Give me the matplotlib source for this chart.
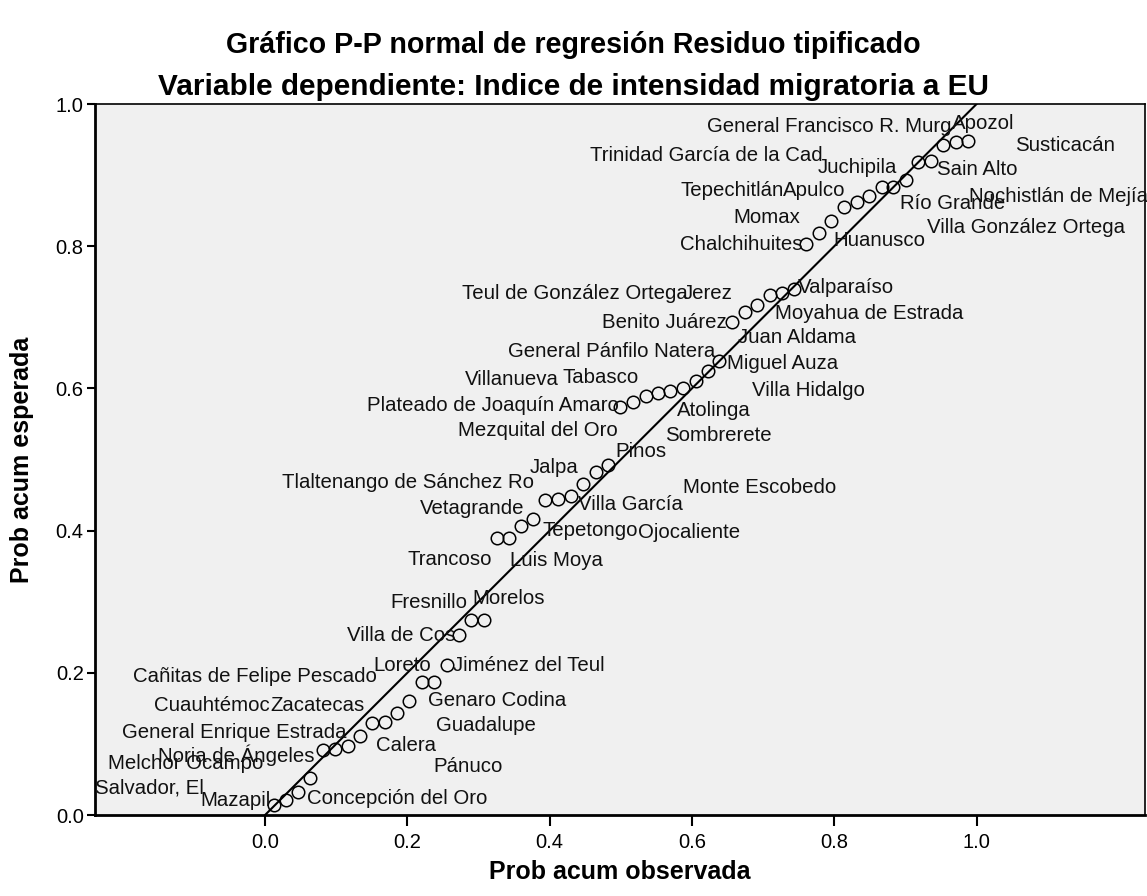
import numpy as np
import matplotlib.pyplot as plt

obs = [0.013, 0.029, 0.046, 0.063, 0.082, 0.098, 0.116, 0.134, 0.150, 0.168,
       0.185, 0.202, 0.220, 0.238, 0.255, 0.273, 0.289, 0.307, 0.326, 0.343,
       0.360, 0.377, 0.394, 0.412, 0.430, 0.447, 0.465, 0.482, 0.499, 0.517,
       0.535, 0.552, 0.569, 0.588, 0.605, 0.622, 0.638, 0.656, 0.675, 0.691,
       0.710, 0.726, 0.744, 0.760, 0.778, 0.795, 0.813, 0.832, 0.849, 0.867,
       0.883, 0.901, 0.918, 0.936, 0.953, 0.971, 0.988]
esp = [0.014, 0.021, 0.033, 0.052, 0.091, 0.093, 0.097, 0.111, 0.130, 0.131,
       0.143, 0.161, 0.187, 0.187, 0.211, 0.253, 0.274, 0.274, 0.390, 0.390,
       0.406, 0.417, 0.443, 0.445, 0.448, 0.465, 0.482, 0.492, 0.574, 0.581,
       0.590, 0.593, 0.597, 0.601, 0.610, 0.625, 0.639, 0.693, 0.708, 0.717,
       0.732, 0.734, 0.740, 0.803, 0.818, 0.835, 0.855, 0.862, 0.870, 0.883,
       0.883, 0.893, 0.918, 0.920, 0.942, 0.946, 0.948]

# municipality labels as SPSS placed them (pixel positions: left x, centre y)
names = ["General Francisco R. Murg", "Apozol", "Susticacán",
         "Trinidad García de la Cad", "Juchipila", "Sain Alto",
         "Tepechitlán", "Apulco", "Río Grande", "Nochistlán de Mejía",
         "Momax", "Villa González Ortega", "Chalchihuites", "Huanusco",
         "Valparaíso", "Teul de González Ortega", "Jerez",
         "Moyahua de Estrada", "Benito Juárez", "Juan Aldama",
         "General Pánfilo Natera", "Miguel Auza", "Villanueva", "Tabasco",
         "Villa Hidalgo", "Plateado de Joaquín Amaro", "Atolinga",
         "Mezquital del Oro", "Sombrerete", "Pinos", "Jalpa",
         "Tlaltenango de Sánchez Ro", "Monte Escobedo", "Vetagrande",
         "Villa García", "Tepetongo", "Ojocaliente", "Trancoso", "Luis Moya",
         "Fresnillo", "Morelos", "Villa de Cos", "Loreto", "Jiménez del Teul",
         "Cañitas de Felipe Pescado", "Genaro Codina", "Cuauhtémoc",
         "Zacatecas", "Guadalupe", "General Enrique Estrada", "Calera",
         "Noria de Ángeles", "Melchor Ocampo", "Pánuco", "Salvador, El",
         "Mazapil", "Concepción del Oro"]
lab_px = [(707, 126), (952, 123), (1015, 145),
          (590, 155), (818, 167), (937, 169),
          (680, 190), (783, 190), (900, 203), (969, 196),
          (733, 217), (927, 227), (680, 244), (833, 240),
          (798, 287), (462, 293), (683, 293),
          (775, 313), (602, 322), (738, 337),
          (508, 351), (727, 363), (465, 379), (562, 377),
          (752, 390), (367, 405), (677, 410),
          (458, 430), (665, 435), (615, 451), (530, 467),
          (282, 482), (683, 487), (420, 508),
          (578, 504), (542, 530), (638, 532), (407, 559), (510, 560),
          (390, 602), (472, 598), (347, 635), (373, 665), (453, 665),
          (133, 676), (428, 700), (154, 705),
          (270, 705), (436, 725), (122, 732), (376, 745),
          (158, 755), (108, 763), (433, 766), (95, 788),
          (200, 800), (307, 798)]

x0, y0, scale = 265.0, 815.0, 711.5

fig = plt.figure(figsize=(11.47, 8.96), dpi=100)
ax = fig.add_axes([0.0826, 0.0904, 0.9157, 0.7935])
ax.set_facecolor("#F0F0F0")

ax.plot([0, 1], [0, 1], color="black", lw=1.5, zorder=2)
ax.plot(obs, esp, "o", ms=9, mfc="none", mec="black", mew=1.1, zorder=3)

for name, (px, py) in zip(names, lab_px):
    ax.text((px - x0) / scale, (y0 - py) / scale, name, fontsize=14.7,
            family="Liberation Sans", ha="left", va="center", color="#111111",
            zorder=4)

ax.set_xlim(-0.2394, 1.2368)
ax.set_ylim(0, 1.0)
ax.set_xticks([0.0, 0.2, 0.4, 0.6, 0.8, 1.0])
ax.set_yticks([0.0, 0.2, 0.4, 0.6, 0.8, 1.0])
ax.set_xticklabels(["0.0", "0.2", "0.4", "0.6", "0.8", "1.0"])
ax.set_yticklabels(["0.0", "0.2", "0.4", "0.6", "0.8", "1.0"])
for lab in ax.get_xticklabels() + ax.get_yticklabels():
    lab.set_family("Liberation Sans")
    lab.set_fontsize(14.5)
ax.tick_params(axis="x", direction="out", length=8, width=1.5, pad=5)
ax.tick_params(axis="y", direction="out", length=6, width=1.5, pad=2)
for side in ["top", "right"]:
    ax.spines[side].set_linewidth(1.2)
for side in ["left", "bottom"]:
    ax.spines[side].set_linewidth(2)

fig.text(0.5, 1 - 45 / 896, "Gráfico P-P normal de regresión Residuo tipificado",
         ha="center", va="center", fontsize=20.6, fontweight="bold",
         family="Liberation Sans")
fig.text(0.5, 1 - 87 / 896,
         "Variable dependiente: Indice de intensidad migratoria a EU",
         ha="center", va="center", fontsize=21.4, fontweight="bold",
         family="Liberation Sans")
fig.text(620 / 1147, 1 - 872 / 896, "Prob acum observada", ha="center",
         va="center", fontsize=18, fontweight="bold", family="Liberation Sans")
fig.text(22 / 1147, 1 - 460 / 896, "Prob acum esperada", ha="center",
         va="center", rotation=90, fontsize=18, fontweight="bold",
         family="Liberation Sans")

plt.savefig("out.png", dpi=100)
